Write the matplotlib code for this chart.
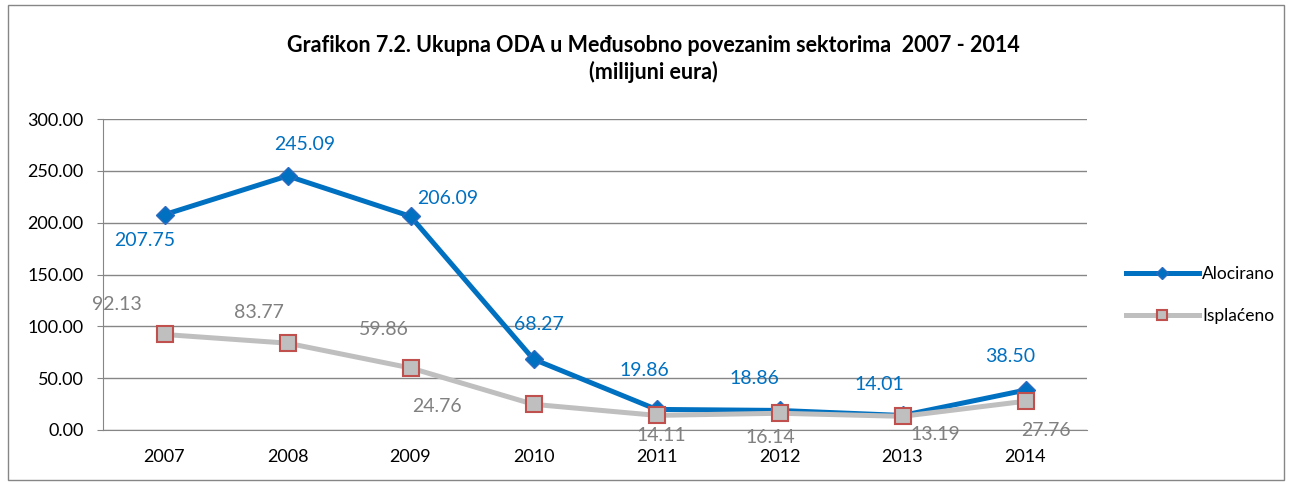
import matplotlib.pyplot as plt
from matplotlib.patches import Rectangle

plt.rcParams['font.family'] = ['Lato', 'DejaVu Sans']

years = ['2007', '2008', '2009', '2010', '2011', '2012', '2013', '2014']
alocirano = [207.75, 245.09, 206.09, 68.27, 19.86, 18.86, 14.01, 38.50]
isplaceno = [92.13, 83.77, 59.86, 24.76, 14.11, 16.14, 13.19, 27.76]

# label offsets (pixels) for each point
off_a = [(-20, -26), (17, 31), (37, 18), (5, 35), (-12, 39), (-25, 32), (-23, 31), (-15, 34)]
off_i = [(-48, 30), (-29, 31), (-27, 38), (-97, -2), (5, -20), (-9, -24), (33, -18), (20, -29)]

blue = '#0070C0'
grey = '#BFBFBF'

fig = plt.figure(figsize=(12.92, 4.82), dpi=100)
ax = fig.add_axes([103/1292, 1-430/482, (1087-103)/1292, (430-119)/482])

x = range(len(years))
ax.plot(x, alocirano, color=blue, lw=3.6, marker='D', ms=9, mfc=blue, mec='#2E6BBF', label='Alocirano', zorder=3)
ax.plot(x, isplaceno, color=grey, lw=3.6, marker='s', ms=12, mfc=grey, mec='#C0504D', mew=1.5, label='Isplaćeno', zorder=4)

for i in x:
    ax.annotate(f'{alocirano[i]:.2f}', (i, alocirano[i]), xytext=off_a[i], textcoords='offset pixels',
                ha='center', va='center', color=blue, fontsize=14)
    ax.annotate(f'{isplaceno[i]:.2f}', (i, isplaceno[i]), xytext=off_i[i], textcoords='offset pixels',
                ha='center', va='center', color='#808080', fontsize=14)

ax.set_xlim(-0.5, 7.5)
ax.set_ylim(0, 300)
ax.set_yticks(range(0, 301, 50))
ax.set_yticklabels([f'{v:.2f}' for v in range(0, 301, 50)])
ax.set_xticks(list(x))
ax.set_xticklabels(years)
ax.tick_params(axis='both', labelsize=13)
ax.tick_params(axis='x', length=0, pad=14)
ax.tick_params(axis='y', length=4, color='#868686', pad=10)
ax.grid(axis='y', color='#868686', lw=1)
ax.set_axisbelow(True)
for s in ['top', 'right']:
    ax.spines[s].set_visible(False)
for s in ['left', 'bottom']:
    ax.spines[s].set_color('#868686')

fig.text(653/1292, 1-45/482, 'Grafikon 7.2. Ukupna ODA u Međusobno povezanim sektorima  2007 - 2014',
         ha='center', va='center', fontsize=15.5, fontweight='bold')
fig.text(653/1292, 1-72/482, '(milijuni eura)', ha='center', va='center', fontsize=15.5, fontweight='bold')

fig.legend(loc='upper left', bbox_to_anchor=(1110/1292, 1-250/482), frameon=False, fontsize=12.5,
           handlelength=4.2, handletextpad=0.2, labelspacing=1.5, markerscale=0.65)

fig.patches.append(Rectangle((8/1292, 2/482), 1276/1292, 475/482, transform=fig.transFigure,
                             fill=False, edgecolor='#868686', lw=1))

fig.savefig('out.png', dpi=100)
